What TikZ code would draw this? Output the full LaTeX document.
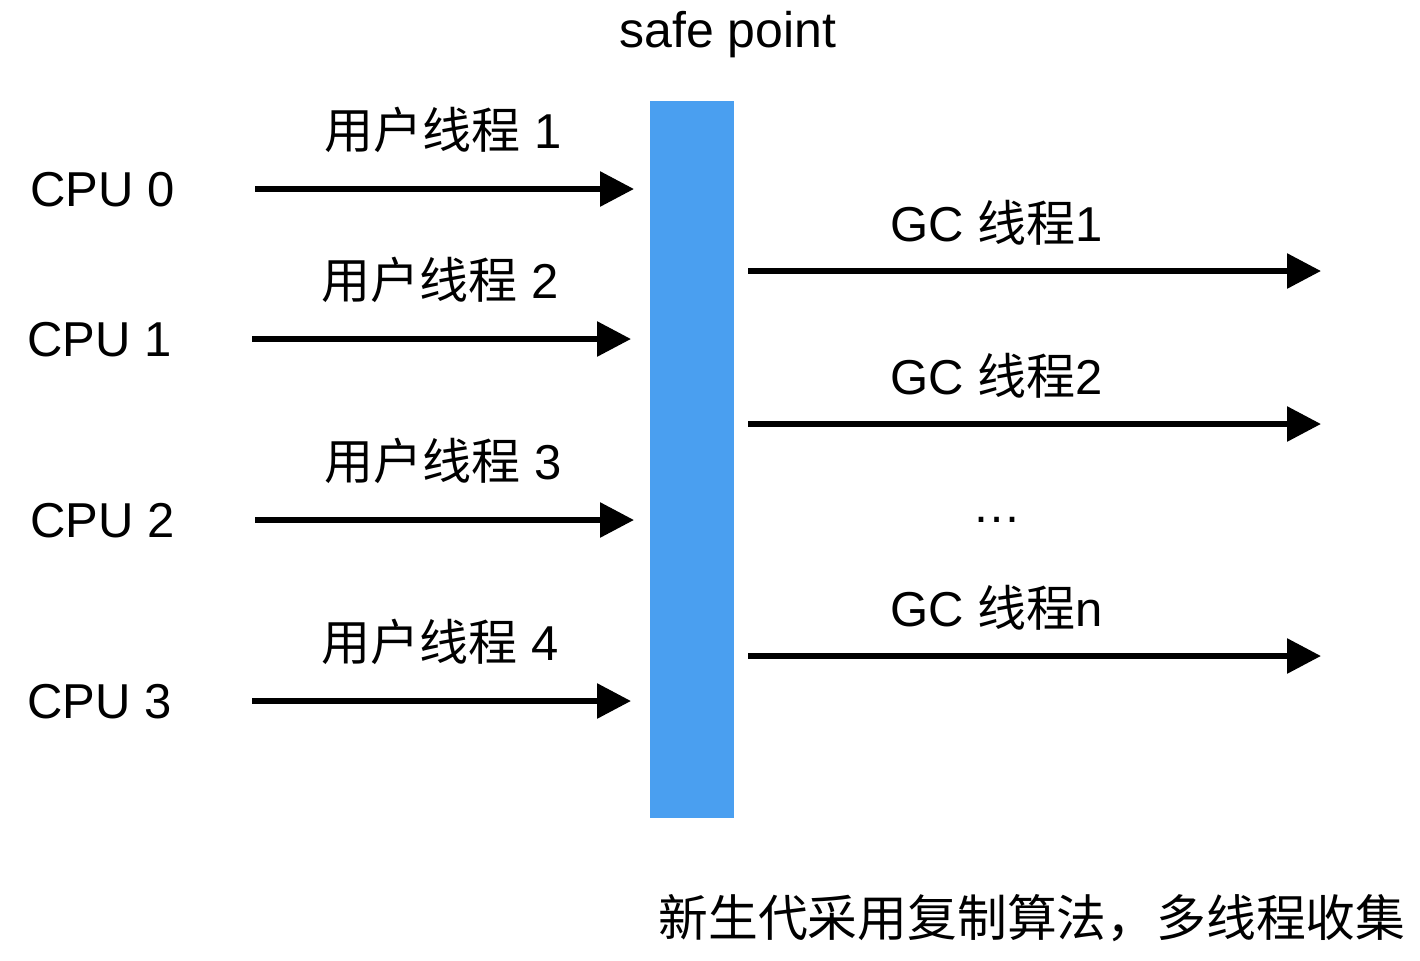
\documentclass[tikz,border=0pt]{standalone}
\usepackage{fontspec}
\setmainfont{Liberation Sans}
\newfontfamily\cjk{Noto Sans CJK SC}
\usetikzlibrary{arrows.meta}
\definecolor{spblue}{HTML}{4A9FF0}
\begin{document}
\begin{tikzpicture}[x=0.5pt,y=-0.5pt,
	lbl/.style = {font=\fontsize{24.5}{29}\selectfont, inner sep=0pt},
	arr/.style = {line width=3pt, -{Triangle[length=17pt,width=17pt]}, shorten >=0pt}]
	\useasboundingbox (0,0) rectangle (1420,960);
	\node[lbl, font=\fontsize{25}{30}\selectfont] (sp) at (728,35) {safe point};
	\fill[spblue] (650,101) rectangle (734,818);
	\coordinate (bar) at (692,460);
	% user threads
	\foreach \i/\y/\dx in {0/189/0,1/339/-3,2/520/0,3/701/-3}{
		\pgfmathtruncatemacro{\n}{\i+1}
		\node[lbl, anchor=west] (cpu\i) at (30+\dx,\y+1) {CPU \i};
		\node[lbl] (ut\i) at (443+\dx,\y-59) {{\cjk 用户线程} \n};
		\coordinate (us\i) at (255+\dx,\y);
		\coordinate (ue\i) at (634+\dx,\y);
		\draw[arr] (us\i) -- (ue\i);
	}
	% gc threads
	\foreach \k/\y/\t in {1/271/1,2/424/2,3/656/n}{
		\node[lbl] (gc\k) at (997,\y-48) {GC {\cjk 线程}\t};
		\coordinate (gs\k) at (748,\y);
		\coordinate (ge\k) at (1321,\y);
		\draw[arr] (gs\k) -- (ge\k);
	}
	\node[lbl, anchor=base] (dots) at (997,522) {…};
	\node[lbl, font=\fontsize{24.9}{30}\selectfont] (note) at (1032,918) {\cjk 新生代采用复制算法，多线程收集};
\end{tikzpicture}
\end{document}
